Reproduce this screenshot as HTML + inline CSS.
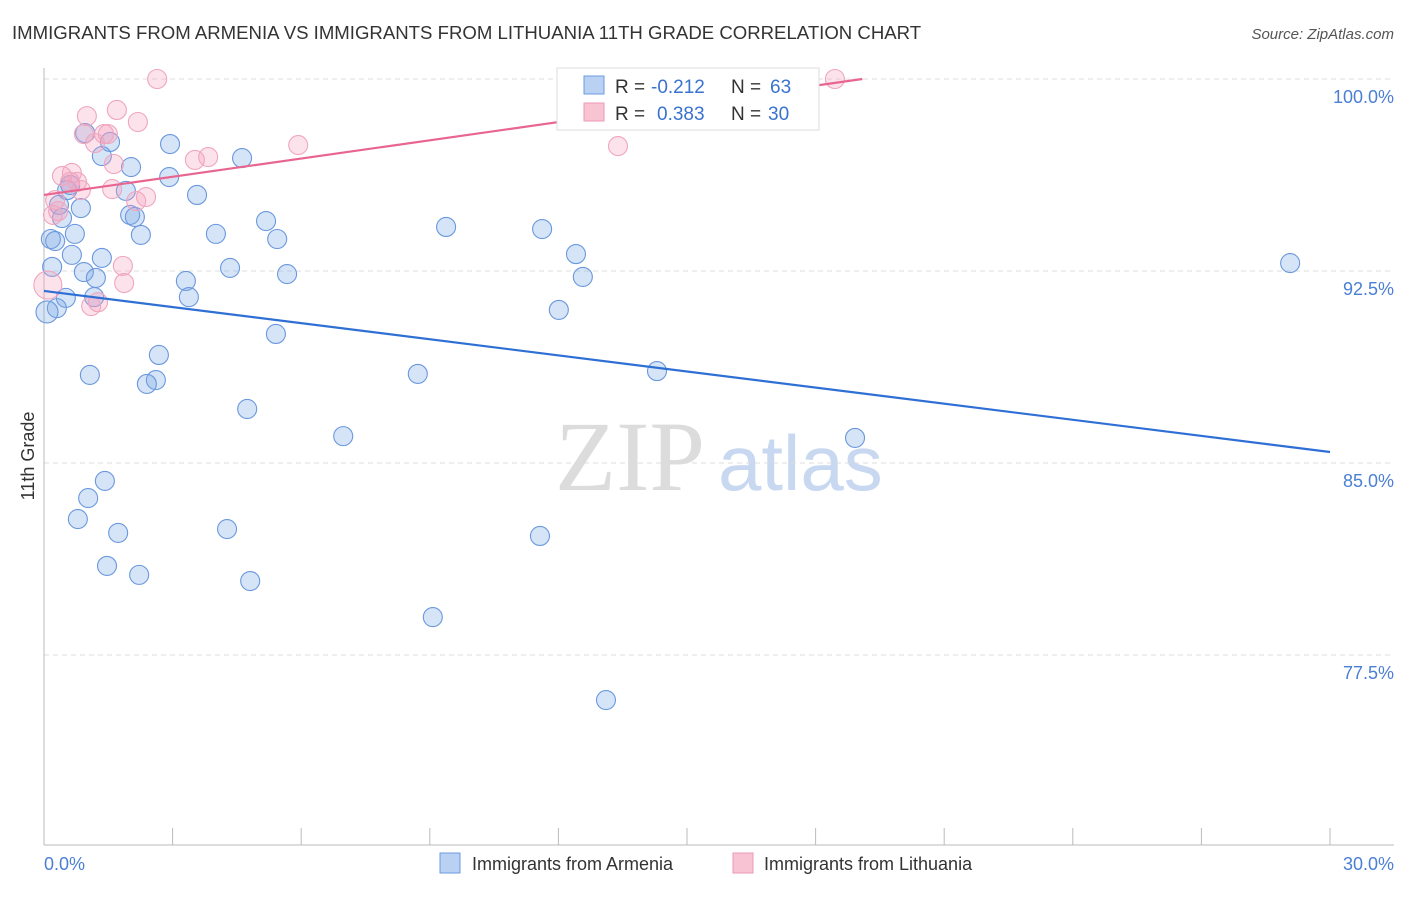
<!DOCTYPE html>
<html><head><meta charset="utf-8"><style>
body{margin:0;background:#fff;font-family:"Liberation Sans",sans-serif;}
</style></head><body>
<svg id="chart" width="1406" height="892" viewBox="0 0 1406 892" style="font-family:'Liberation Sans',sans-serif">
<text x="12" y="39" font-size="18.6" fill="#333">IMMIGRANTS FROM ARMENIA VS IMMIGRANTS FROM LITHUANIA 11TH GRADE CORRELATION CHART</text>
<text x="1394" y="39" font-size="15" fill="#555" font-style="italic" text-anchor="end">Source: ZipAtlas.com</text>
<g>
<text x="555" y="490" font-size="100" fill="#dcdcdc" style="font-family:'Liberation Serif',serif">ZIP</text>
<text x="718" y="490" font-size="78" fill="#c8d8f0" style="font-family:'Liberation Sans',sans-serif">atlas</text>
</g>
<g id="grid"></g><g id="axes"></g><g id="pts"></g><g id="lines"></g>
<text x="34" y="456" font-size="18" fill="#333" text-anchor="middle" transform="rotate(-90 34 456)">11th Grade</text>
<text x="44" y="870" font-size="18" fill="#4a7fd4">0.0%</text>
<text x="1394" y="870" font-size="18" fill="#4a7fd4" text-anchor="end">30.0%</text>
<g>
<rect x="557" y="68" width="262" height="62" fill="#fff" stroke="#ddd"/>
<rect x="584" y="76" width="20" height="18" fill="#b9d1f3" stroke="#6b9be0"/>
<rect x="584" y="103" width="20" height="18" fill="#f8c3d3" stroke="#eb9ab4"/>
<text x="615" y="93" font-size="19" fill="#333">R =</text>
<text x="651" y="93" font-size="19" fill="#3a72d0">-0.212</text>
<text x="731" y="93" font-size="19" fill="#333">N =</text>
<text x="770" y="93" font-size="19" fill="#3a72d0">63</text>
<text x="615" y="120" font-size="19" fill="#333">R =</text>
<text x="657" y="120" font-size="19" fill="#3a72d0">0.383</text>
<text x="731" y="120" font-size="19" fill="#333">N =</text>
<text x="768" y="120" font-size="19" fill="#3a72d0">30</text>
</g>
<g>
<rect x="440" y="853" width="20" height="20" fill="#b9d1f3" stroke="#6b9be0"/>
<text x="472" y="870" font-size="18" fill="#333">Immigrants from Armenia</text>
<rect x="733" y="853" width="20" height="20" fill="#f8c3d3" stroke="#eb9ab4"/>
<text x="764" y="870" font-size="18" fill="#333">Immigrants from Lithuania</text>
</g>
</svg>
<script>
const yTicks=[100,92.5,85,77.5];
const yTickLabels=["100.0%","92.5%","85.0%","77.5%"];
const xTicks=[0,3,6,9,12,15,18,21,24,27,30];
const armeniaX=[0.96,1.54,1.35,2.03,2.94,2.92,4.62,0.54,0.61,1.91,3.57,0.86,0.35,0.42,2.01,2.12,2.26,0.72,0.16,0.26,4.01,5.18,5.44,9.38,11.62,0.65,1.35,0.19,0.93,1.21,4.34,5.67,12.41,12.57,3.31,0.51,1.17,3.38,0.30,0.07,12.01,5.41,2.68,1.07,2.61,2.40,8.72,14.30,4.74,6.98,18.92,29.07,1.42,1.03,0.79,1.73,4.27,11.57,1.47,2.22,4.81,9.07,13.11];
const armeniaY=[97.89,97.54,96.99,96.56,97.46,96.17,96.91,95.66,95.86,95.63,95.47,94.96,95.08,94.57,94.69,94.61,93.91,93.95,93.75,93.67,93.95,94.45,93.75,94.22,94.14,93.13,93.01,92.66,92.46,92.23,92.62,92.38,93.16,92.27,92.11,91.45,91.48,91.48,91.05,90.90,90.98,90.04,89.22,88.44,88.24,88.09,88.48,88.59,87.11,86.05,85.98,92.81,84.30,83.63,82.81,82.27,82.42,82.15,80.98,80.63,80.39,78.98,75.74];
const lithuaniaX=[2.64,18.45,1.00,1.70,2.19,0.93,1.40,1.49,1.19,5.93,3.83,3.52,1.63,13.39,0.42,0.65,0.61,0.77,0.86,1.59,2.38,2.15,0.26,0.33,0.21,1.84,1.87,1.10,1.26,0.09];
const lithuaniaY=[100,100,98.55,98.79,98.32,97.85,97.85,97.85,97.50,97.42,96.95,96.84,96.68,97.38,96.21,96.33,95.98,95.98,95.66,95.70,95.39,95.23,95.27,94.84,94.69,92.70,92.03,91.13,91.28,91.95];
const armeniaTrend=[91.72,85.43];
const lithuaniaTrend=[95.47,100];
const lithuaniaTrendEndX=19.09;
const NS="http://www.w3.org/2000/svg";
const sx=v=>44+v/30*1286;
const sy=v=>79+(100-v)/7.5*192;
function mk(tag,attrs,parent){const e=document.createElementNS(NS,tag);for(const k in attrs)e.setAttribute(k,attrs[k]);document.getElementById(parent).appendChild(e);return e;}
yTicks.forEach((t,i)=>{
 const l=mk('line',{x1:44,x2:1394,y1:sy(t),y2:sy(t),stroke:'#ddd','stroke-dasharray':'5,4'},'grid');
 
 
 const tx=mk('text',{x:1394,y:sy(t)+24,'font-size':18,fill:'#4a7fd4','text-anchor':'end'},'grid');
 tx.textContent=yTickLabels[i];
 
 
});
const ax=mk('line',{x1:44,x2:44,y1:68,y2:845,stroke:'#bbb'},'axes');


const bx=mk('line',{x1:44,x2:1394,y1:845,y2:845,stroke:'#bbb'},'axes');


xTicks.forEach(t=>{
 const l=mk('line',{x1:sx(t),x2:sx(t),y1:828,y2:845,stroke:'#bbb'},'axes');
 
 
});
armeniaX.forEach((x,i)=>{
 const c=mk('circle',{cx:sx(x),cy:sy(armeniaY[i]),r:(i==39?11:9.5),fill:'rgba(120,165,230,0.3)',stroke:'#6a98de','stroke-width':1.1},'pts');
 
 
});
lithuaniaX.forEach((x,i)=>{
 const c=mk('circle',{cx:sx(x),cy:sy(lithuaniaY[i]),r:(i==29?14:9.5),fill:'rgba(245,160,188,0.3)',stroke:'#efa6be','stroke-width':1.1},'pts');
 
 
});
const t1=mk('line',{x1:sx(0),y1:sy(armeniaTrend[0]),x2:sx(30),y2:sy(armeniaTrend[1]),stroke:'#2e6fd6','stroke-width':2.2},'lines');


const t2=mk('line',{x1:sx(0),y1:sy(lithuaniaTrend[0]),x2:sx(lithuaniaTrendEndX),y2:sy(lithuaniaTrend[1]),stroke:'#e8658f','stroke-width':2.2},'lines');


</script>
</body></html>
